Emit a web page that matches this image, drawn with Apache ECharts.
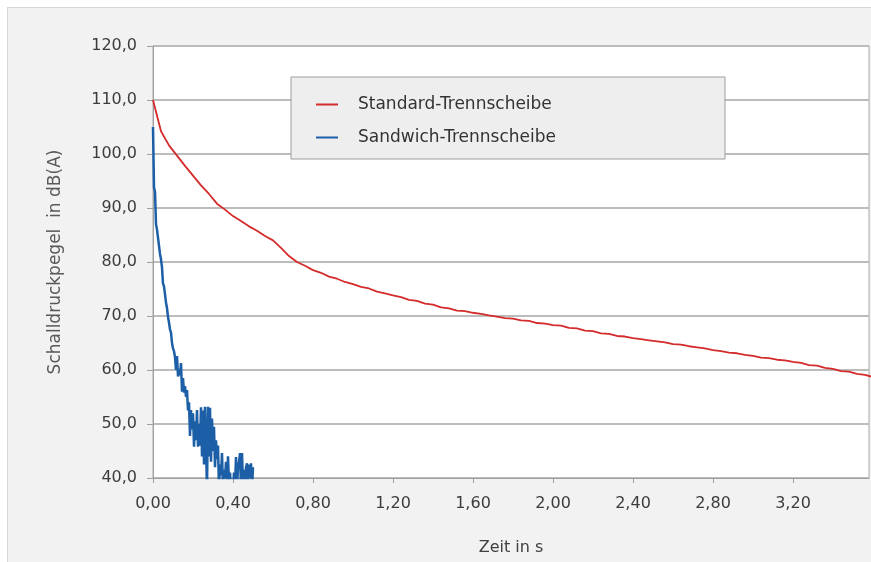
<!DOCTYPE html>
<html lang="de">
<head>
    <meta charset="utf-8">
    <title>Schalldruckpegel Trennscheiben</title>
    <script src="https://cdn.jsdelivr.net/npm/echarts@6/dist/echarts.min.js"></script>
    <style>
        html, body { margin: 0; padding: 0; background: #ffffff; }
        #frame {
            position: absolute; left: 7px; top: 7px; width: 870px; height: 560px;
            background: #f2f2f2; border: 1px solid #d6d6d6;
        }
        #chart { position: absolute; left: 0; top: 0; width: 871px; height: 562px; }
    </style>
</head>
<body>
<div id="frame"></div>
<div id="chart"></div>
<script>
    // Abtastschritt der Messreihen in s
    var redStep = 0.04;
    var blueStep = 0.005;

    // Standard-Trennscheibe, Pegel in dB(A) alle 0,04 s
    var standardLevel = [
        110.0, 104.2, 101.6, 99.7, 97.8, 96.0, 94.2, 92.6, 90.8, 89.7,
        88.5, 87.6, 86.6, 85.8, 84.8, 84.0, 82.6, 81.1, 80.0, 79.3,
        78.5, 78.0, 77.3, 76.9, 76.3, 75.9, 75.4, 75.1, 74.5, 74.2,
        73.8, 73.5, 73.0, 72.8, 72.3, 72.1, 71.6, 71.4, 71.0, 70.9,
        70.6, 70.4, 70.1, 69.9, 69.6, 69.5, 69.2, 69.1, 68.7, 68.6,
        68.3, 68.2, 67.8, 67.7, 67.3, 67.2, 66.8, 66.7, 66.3, 66.2,
        65.9, 65.7, 65.5, 65.3, 65.1, 64.8, 64.7, 64.4, 64.2, 64.0,
        63.7, 63.5, 63.2, 63.1, 62.8, 62.6, 62.3, 62.2, 61.9, 61.8,
        61.5, 61.3, 60.9, 60.8, 60.4, 60.2, 59.8, 59.7, 59.3, 59.1,
        58.7
    ];

    // Sandwich-Trennscheibe, Pegel in dB(A) alle 0,005 s
    var sandwichLevel = [
        105.0, 93.8, 93.0, 87.0, 86.0, 84.5, 83.0, 81.5, 80.5, 79.0,
        76.0, 75.5, 74.0, 72.5, 71.5, 69.8, 68.8, 67.5, 66.9, 65.0,
        64.0, 63.5, 62.4, 60.0, 62.6, 58.8, 60.2, 59.0, 61.3, 56.0,
        58.5, 55.8, 57.0, 55.0, 56.3, 52.5, 54.0, 47.8, 52.6, 49.0,
        52.0, 45.8, 50.5, 47.0, 52.6, 45.8, 50.0, 46.0, 53.1, 44.0,
        52.5, 42.5, 53.2, 46.0, 38.0, 53.2, 44.0, 53.0, 43.0, 51.0,
        45.0, 49.5, 42.0, 47.0, 43.5, 46.0, 38.0, 42.5, 40.5, 44.6,
        38.0, 41.5, 40.0, 43.0, 38.0, 44.0, 39.0, 41.0, 38.0, 39.5,
        38.0, 41.0, 38.5, 43.9, 38.0, 42.0, 43.0, 44.6, 38.0, 44.6,
        39.0, 41.5, 38.0, 42.0, 42.7, 38.0, 42.5, 40.0, 42.7, 38.0,
        42.0
    ];

    var seriesNames = ['Standard-Trennscheibe', 'Sandwich-Trennscheibe'];

    function toPairs(levels, step) {
        var out = [];
        for (var i = 0; i < levels.length; i++) {
            out.push([+(i * step).toFixed(3), levels[i]]);
        }
        return out;
    }

    // Dezimalkomma wie in der Vorlage
    function komma(v, digits) {
        var s = Math.abs(v).toFixed(digits).replace('.', ',');
        return v < -1e-9 ? '-' + s : s;
    }

    var chart = echarts.init(document.getElementById('chart'));
    var fontName = 'DejaVu Sans, Verdana, sans-serif';
    var labelFont = {color: '#3c3c3c', fontSize: 16, fontFamily: fontName};

    var option = {
        backgroundColor: 'transparent',
        animation: false,
        grid: {
            left: 153, right: 2, top: 46, bottom: 84,
            show: true, backgroundColor: '#ffffff', borderColor: '#a8a8a8', borderWidth: 1
        },
        legend: {
            data: seriesNames,
            orient: 'vertical',
            left: 311, top: 90,
            itemWidth: 22, itemHeight: 2, itemGap: 14,
            icon: 'rect',
            textStyle: {color: '#333333', fontSize: 17, lineHeight: 19, fontFamily: fontName, padding: [0, 0, 0, 15]}
        },
        graphic: [{
            type: 'rect', z: 3,
            shape: {x: 291, y: 77, width: 434, height: 82},
            style: {fill: '#eeeeee', stroke: '#9c9c9c', lineWidth: 1}
        }],
        xAxis: {
            type: 'value', min: 0, max: 3.58, interval: 0.4,
            name: 'Zeit in s', nameLocation: 'middle', nameGap: 62,
            nameTextStyle: {color: '#404040', fontSize: 16, fontFamily: fontName},
            axisLine: {show: true, lineStyle: {color: '#a0a0a0', width: 1}},
            axisTick: {show: true, length: 5, lineStyle: {color: '#a0a0a0'}},
            splitLine: {show: false},
            axisLabel: Object.assign({
                margin: 18,
                showMaxLabel: false,
                formatter: function (v) {
                    if (Math.abs(v / 0.4 - Math.round(v / 0.4)) > 1e-6) return '';
                    return komma(v, 2);
                }
            }, labelFont)
        },
        yAxis: {
            type: 'value', min: 40, max: 120, interval: 10,
            name: 'Schalldruckpegel  in dB(A)', nameLocation: 'middle', nameGap: 89,
            nameTextStyle: {color: '#595959', fontSize: 17, fontFamily: fontName},
            axisLine: {show: true, lineStyle: {color: '#a0a0a0', width: 1}},
            axisTick: {show: true, length: 6, lineStyle: {color: '#a0a0a0'}},
            splitLine: {show: true, lineStyle: {color: '#bcbcbc', width: 2}},
            axisLabel: Object.assign({
                margin: 16,
                formatter: function (v) { return komma(v, 1); }
            }, labelFont)
        },
        series: [
            {
                name: seriesNames[0], type: 'line', showSymbol: false, clip: true,
                data: toPairs(standardLevel, redStep),
                itemStyle: {color: '#d42b2b'},
                lineStyle: {color: '#d42b2b', width: 1.8},
                z: 2
            },
            {
                name: seriesNames[1], type: 'line', showSymbol: false, clip: true,
                data: toPairs(sandwichLevel, blueStep),
                itemStyle: {color: '#1d5fa6'},
                lineStyle: {color: '#1d5fa6', width: 2.5},
                z: 2
            }
        ]
    };

    chart.setOption(option);
</script>
</body>
</html>
